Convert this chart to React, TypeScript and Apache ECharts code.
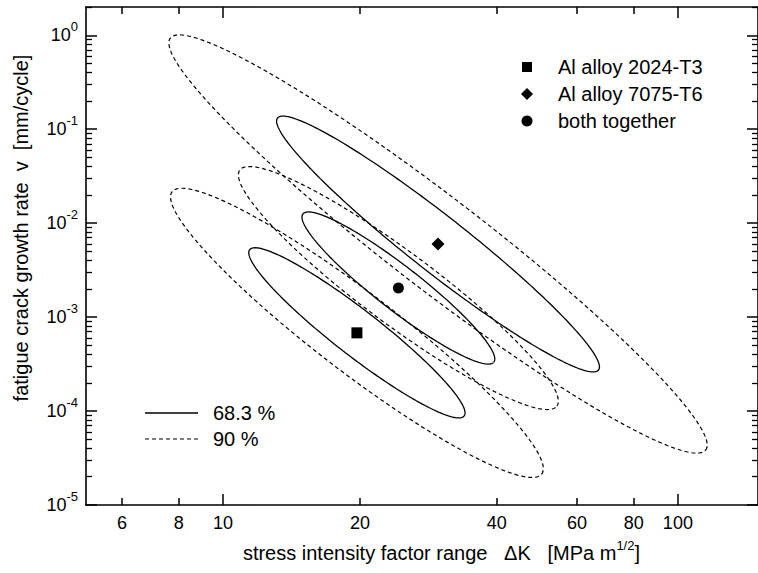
import React, { useEffect, useRef } from 'react';
import * as echarts from 'echarts';

// ---- data ----
const materials = ['Al alloy 2024-T3', 'Al alloy 7075-T6', 'both together'];
const markerSymbols = ['rect', 'diamond', 'circle'];
// centres (best estimates) in ΔK [MPa m^1/2] and v [mm/cycle]
const centerK = [19.7, 29.7, 24.3];
const centerV = [6.8e-4, 6.0e-3, 2.04e-3];
// 68.3 % ellipses: lower-right end of long axis, end of short axis
const tip68K = [33.9, 66.9, 39.4];
const tip68V = [8.85e-5, 2.73e-4, 3.32e-4];
const side68K = [21.15, 32.5, 26.0];
const side68V = [1.055e-3, 1.02e-2, 3.12e-3];
// 90 % ellipses
const tip90K = [50.2, 115.1, 54.2];
const tip90V = [2.14e-5, 3.85e-5, 1.13e-4];
const side90K = [22.27, 34.3, 27.1];
const side90V = [1.476e-3, 1.455e-2, 4.14e-3];

const levelNames = ['68.3 %', '90 %'];

// ---- axis ticks ----
const xLabelValues = [6, 8, 10, 20, 40, 60, 80, 100];
const xShortTicks = [6, 8, 20, 40, 60, 80];
const xLongTicks = [10, 100];
const yDecades = [1e-5, 1e-4, 1e-3, 1e-2, 1e-1, 1];
const yMinorFactors = [2, 3, 4, 5, 6, 7, 8, 9];

const FONT = '"Liberation Sans", Arial, Helvetica, sans-serif';

function ellipsePoints(ck: number, cv: number, tk: number, tv: number, sk: number, sv: number) {
  const cx = Math.log10(ck), cy = Math.log10(cv);
  const ux = Math.log10(tk) - cx, uy = Math.log10(tv) - cy;
  const wx = Math.log10(sk) - cx, wy = Math.log10(sv) - cy;
  const pts: number[][] = [];
  const n = 240;
  for (let i = 0; i <= n; i++) {
    const t = (i / n) * Math.PI * 2;
    const lx = cx + ux * Math.cos(t) + wx * Math.sin(t);
    const ly = cy + uy * Math.cos(t) + wy * Math.sin(t);
    pts.push([Math.pow(10, lx), Math.pow(10, ly)]);
  }
  return pts;
}

export default function App() {
  const ref = useRef<HTMLDivElement>(null);
  useEffect(() => {
    if (!ref.current) return;
    const chart = echarts.init(ref.current, undefined, { renderer: 'svg' });

    const yMinor: number[] = [];
    yDecades.forEach((d) => yMinorFactors.forEach((f) => { if (f * d <= 2) yMinor.push(f * d); }));

    const lineCol = '#000';
    const axisLine = { show: true, lineStyle: { color: lineCol, width: 1.6 } };
    const baseX = { type: 'log', logBase: 10, min: 5, max: 150, splitLine: { show: false } };
    const baseY = { type: 'log', logBase: 10, min: 1e-5, max: 2, splitLine: { show: false } };

    const xAxis: any[] = [
      { ...baseX, gridIndex: 0, position: 'bottom', axisLine,
        axisTick: { show: true, inside: true, length: 7, customValues: xShortTicks, lineStyle: { color: lineCol, width: 1.5 } },
        axisLabel: { show: true, customValues: xLabelValues, fontSize: 18, color: '#000', fontFamily: FONT, margin: 9 } },
      { ...baseX, gridIndex: 0, position: 'top', axisLine,
        axisTick: { show: true, inside: true, length: 7, customValues: xShortTicks, lineStyle: { color: lineCol, width: 1.5 } },
        axisLabel: { show: false } },
      { ...baseX, gridIndex: 1, position: 'bottom', axisLine: { show: false },
        axisTick: { show: true, inside: true, length: 11, customValues: xLongTicks, lineStyle: { color: lineCol, width: 1.5 } },
        axisLabel: { show: false } },
      { ...baseX, gridIndex: 1, position: 'top', axisLine: { show: false },
        axisTick: { show: true, inside: true, length: 11, customValues: xLongTicks, lineStyle: { color: lineCol, width: 1.5 } },
        axisLabel: { show: false } },
    ];
    const yAxis: any[] = [
      { ...baseY, gridIndex: 0, position: 'left', axisLine,
        axisTick: { show: true, inside: true, length: 11, customValues: yDecades, lineStyle: { color: lineCol, width: 1.5 } },
        axisLabel: {
          show: true, customValues: yDecades, margin: 8, color: '#000', fontFamily: FONT,
          formatter: (v: number) => '{b|10}{s|' + Math.round(Math.log10(v)) + '}',
          rich: {
            b: { fontSize: 18, fontFamily: FONT, color: '#000', lineHeight: 20 },
            s: { fontSize: 13, fontFamily: FONT, color: '#000', lineHeight: 13, padding: [0, 0, 18, 0] },
          },
        } },
      { ...baseY, gridIndex: 0, position: 'right', axisLine,
        axisTick: { show: true, inside: true, length: 11, customValues: yDecades, lineStyle: { color: lineCol, width: 1.5 } },
        axisLabel: { show: false } },
      { ...baseY, gridIndex: 1, position: 'left', axisLine: { show: false },
        axisTick: { show: true, inside: true, length: 6, customValues: yMinor, lineStyle: { color: lineCol, width: 1.3 } },
        axisLabel: { show: false } },
      { ...baseY, gridIndex: 1, position: 'right', axisLine: { show: false },
        axisTick: { show: true, inside: true, length: 6, customValues: yMinor, lineStyle: { color: lineCol, width: 1.3 } },
        axisLabel: { show: false } },
    ];

    const series: any[] = [];
    for (let i = 0; i < materials.length; i++) {
      series.push({
        name: levelNames[0], type: 'line', xAxisIndex: 0, yAxisIndex: 0, symbol: 'none', silent: true,
        lineStyle: { color: lineCol, width: 1.3, type: 'solid', opacity: 1 },
        data: ellipsePoints(centerK[i], centerV[i], tip68K[i], tip68V[i], side68K[i], side68V[i]),
      });
      series.push({
        name: levelNames[1], type: 'line', xAxisIndex: 0, yAxisIndex: 0, symbol: 'none', silent: true,
        lineStyle: { color: lineCol, width: 1.2, type: [4, 3], opacity: 1 },
        data: ellipsePoints(centerK[i], centerV[i], tip90K[i], tip90V[i], side90K[i], side90V[i]),
      });
      series.push({
        name: materials[i], type: 'scatter', xAxisIndex: 0, yAxisIndex: 0,
        symbol: markerSymbols[i], symbolSize: i === 1 ? 13 : 11,
        itemStyle: { color: '#000', opacity: 1 },
        data: [[centerK[i], centerV[i]]],
      });
    }

    const txt = (x: number, y: number, text: string, extra: any = {}) => ({
      type: 'text', x, y, silent: true,
      style: { text, fill: '#000', font: '20px ' + FONT, align: 'left', verticalAlign: 'middle', ...extra },
    });

    const graphic: any[] = [
      // marker legend
      { type: 'rect', shape: { x: 522, y: 62, width: 10, height: 10 }, style: { fill: '#000' } },
      { type: 'polygon', shape: { points: [[527, 88], [533, 94], [527, 100], [521, 94]] }, style: { fill: '#000' } },
      { type: 'circle', shape: { cx: 527, cy: 121, r: 5.5 }, style: { fill: '#000' } },
      txt(558, 67, materials[0]),
      txt(558, 94, materials[1]),
      txt(558, 121, materials[2]),
      // line legend
      { type: 'line', shape: { x1: 145, y1: 413, x2: 198, y2: 413 }, style: { stroke: '#000', lineWidth: 1.3 } },
      { type: 'line', shape: { x1: 145, y1: 439, x2: 198, y2: 439 }, style: { stroke: '#000', lineWidth: 1.2, lineDash: [4, 3] } },
      txt(213, 413, levelNames[0]),
      txt(213, 439, levelNames[1]),
      // axis titles
      {
        type: 'text', x: 640, y: 553, silent: true,
        style: {
          text: '{t|stress intensity factor range   \u0394K   [MPa m}{s|1/2}{t|]}',
          align: 'right', verticalAlign: 'middle', fill: '#000',
          rich: {
            t: { fontSize: 20, fontFamily: FONT, fill: '#000', lineHeight: 22 },
            s: { fontSize: 13, fontFamily: FONT, fill: '#000', lineHeight: 13, padding: [0, 0, 16, 0] },
          },
        },
      },
      {
        type: 'text', x: 21, y: 228, rotation: Math.PI / 2, silent: true,
        style: {
          text: 'fatigue crack growth rate  v  [mm/cycle]', fill: '#000', font: '20px ' + FONT,
          align: 'center', verticalAlign: 'middle',
        },
      },
    ];

    chart.setOption({
      animation: false,
      backgroundColor: '#ffffff',
      grid: [
        { left: 86, top: 7, right: -5, bottom: 68, containLabel: false },
        { left: 86, top: 7, right: -5, bottom: 68, containLabel: false },
      ],
      xAxis,
      yAxis,
      series,
      graphic,
    });
    return () => chart.dispose();
  }, []);

  return (
    <div style={{ position: 'fixed', left: 0, top: 0, width: 758, height: 573, overflow: 'hidden', background: '#fff' }}>
      <div ref={ref} style={{ width: 758, height: 573 }} />
    </div>
  );
}
